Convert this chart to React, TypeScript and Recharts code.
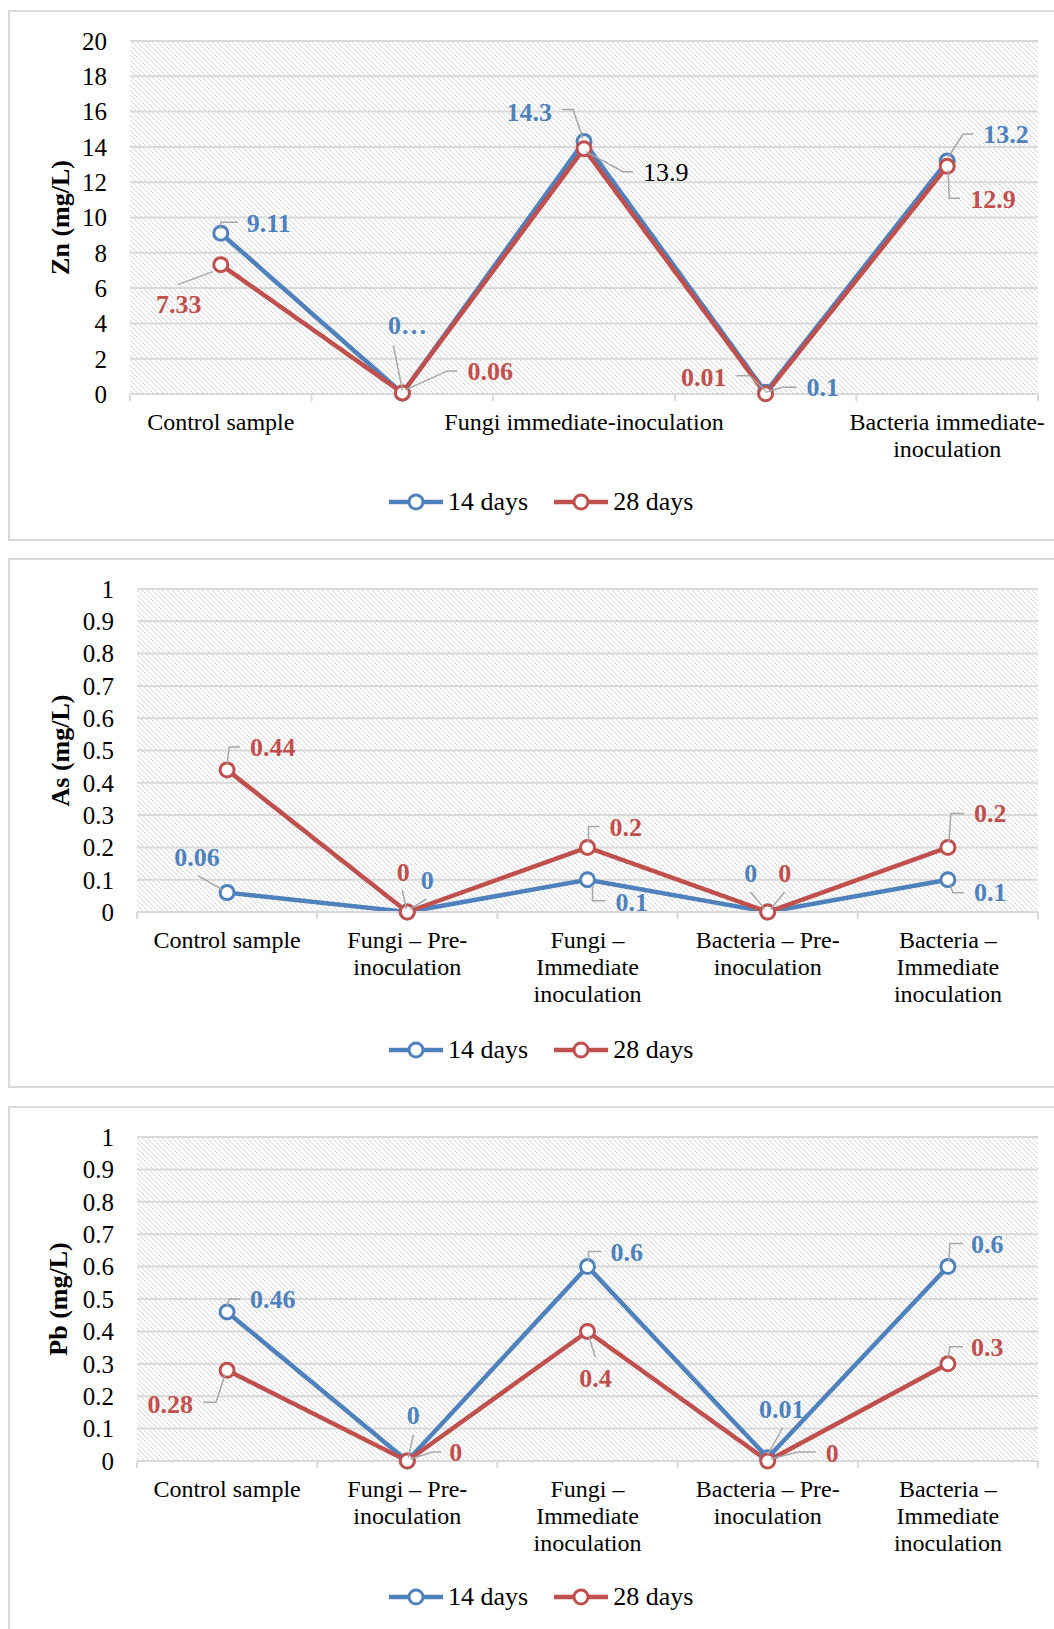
import React from "react";
import { LineChart, Line, XAxis, YAxis, CartesianGrid, Legend, LabelList } from "recharts";

// categories
const znCategories = ["Control sample", "Fungi pre-inoculation", "Fungi immediate-inoculation", "Bacteria pre-inoculation", "Bacteria immediate-\ninoculation"];
const categories = ["Control sample", "Fungi – Pre-\ninoculation", "Fungi –\nImmediate\ninoculation", "Bacteria – Pre-\ninoculation", "Bacteria –\nImmediate\ninoculation"];

// values (mg/L)
const zn14 = [9.11, 0.04, 14.3, 0.1, 13.2];
const zn28 = [7.33, 0.06, 13.9, 0.01, 12.9];
const as14 = [0.06, 0, 0.1, 0, 0.1];
const as28 = [0.44, 0, 0.2, 0, 0.2];
const pb14 = [0.46, 0, 0.6, 0.01, 0.6];
const pb28 = [0.28, 0, 0.4, 0, 0.3];

// label texts (Excel truncated one of them)
const zn14Text = ["9.11", "0…", "14.3", "0.1", "13.2"];

// y ticks
const znTicks = [0, 2, 4, 6, 8, 10, 12, 14, 16, 18, 20];
const unitTicks = [0, 0.1, 0.2, 0.3, 0.4, 0.5, 0.6, 0.7, 0.8, 0.9, 1];

const BLUE = "#4F81BD";
const RED = "#C0504D";
const GRID = "#D9D9D9";
const LEADER = "#A6A6A6";
const FONT = '"Liberation Serif", "Times New Roman", serif';
const W = 1054;
const PLOT_RIGHT = 1038;

type Tag = { dx: number; dy: number; anchor: "start" | "middle" | "end"; leader: number[][]; color?: string; weight?: string };

// label placement relative to each point
const zn14Tags: Tag[] = [
  { dx: 26, dy: -10, anchor: "start", leader: [[0, -4], [0, -11], [17, -11]] },
  { dx: 5, dy: -68, anchor: "middle", leader: [[-9, -48], [0, -3]] },
  { dx: -32, dy: -29, anchor: "end", leader: [[-22, -32], [-11, -32], [-1, -3]] },
  { dx: 41, dy: -5, anchor: "start", leader: [[0, 0], [17, -5], [31, -5]] },
  { dx: 36, dy: -27, anchor: "start", leader: [[1, -4], [16, -27], [26, -27]] },
];
const zn28Tags: Tag[] = [
  { dx: -42, dy: 40, anchor: "middle", leader: [[-8, 7], [-43, 20]] },
  { dx: 65, dy: -21, anchor: "start", leader: [[3, -3], [45, -22], [55, -22]] },
  { dx: 59, dy: 24, anchor: "start", leader: [[2, 3], [39, 23], [49, 23]], color: "#000", weight: "normal" },
  { dx: -39, dy: -16, anchor: "end", leader: [[-29, -18], [-16, -18], [0, -3]] },
  { dx: 23, dy: 33, anchor: "start", leader: [[1, 4], [2, 32], [13, 32]] },
];
const as14Tags: Tag[] = [
  { dx: -30, dy: -35, anchor: "middle", leader: [[-29, -17], [-5, -3]] },
  { dx: 20, dy: -32, anchor: "middle", leader: [[19, -13], [3, -3]] },
  { dx: 28, dy: 23, anchor: "start", leader: [[5, 5], [5, 21], [18, 21]] },
  { dx: -17, dy: -39, anchor: "middle", leader: [[-17, -20], [-3, -3]] },
  { dx: 26, dy: 13, anchor: "start", leader: [[2, 4], [5, 13], [16, 13]] },
];
const as28Tags: Tag[] = [
  { dx: 23, dy: -22, anchor: "start", leader: [[0, -5], [2, -23], [13, -23]] },
  { dx: -4, dy: -40, anchor: "middle", leader: [[-5, -22], [-1, -3]] },
  { dx: 22, dy: -20, anchor: "start", leader: [[1, -5], [1, -21], [12, -21]] },
  { dx: 17, dy: -39, anchor: "middle", leader: [[17, -20], [3, -3]] },
  { dx: 26, dy: -34, anchor: "start", leader: [[1, -5], [3, -34], [16, -34]] },
];
const pb14Tags: Tag[] = [
  { dx: 23, dy: -12, anchor: "start", leader: [[0, -5], [2, -13], [13, -13]] },
  { dx: 6, dy: -46, anchor: "middle", leader: [[6, -26], [1, -3]] },
  { dx: 23, dy: -14, anchor: "start", leader: [[1, -5], [1, -15], [14, -15]] },
  { dx: 14, dy: -48, anchor: "middle", leader: [[15, -30], [0, -3]] },
  { dx: 23, dy: -22, anchor: "start", leader: [[1, -5], [2, -23], [15, -23]] },
];
const pb28Tags: Tag[] = [
  { dx: -34, dy: 34, anchor: "end", leader: [[-2, 4], [-11, 32], [-24, 32]] },
  { dx: 42, dy: -9, anchor: "start", leader: [[3, -2], [25, -9], [34, -9]] },
  { dx: 8, dy: 47, anchor: "middle", leader: [[1, 4], [8, 26]] },
  { dx: 58, dy: -8, anchor: "start", leader: [[3, -2], [30, -9], [48, -9]] },
  { dx: 23, dy: -16, anchor: "start", leader: [[0, -5], [2, -17], [15, -17]] },
];

const makeLabel = (texts: string[], tags: Tag[], color: string) => (props: any) => {
  const { index, value } = props;
  const x = props.x ?? props.viewBox?.x;
  const y = props.y ?? props.viewBox?.y;
  const t = tags[index];
  if (!t || x == null || y == null) return null;
  const pts = t.leader.map(([a, b]) => `${x + a},${y + b}`).join(" ");
  return (
    <g key={`lbl-${index}`}>
      <polyline points={pts} fill="none" stroke={LEADER} strokeWidth={1.5} />
      <text x={x + t.dx} y={y + t.dy} textAnchor={t.anchor} dominantBaseline="central"
        fill={t.color ?? color} fontWeight={t.weight ?? "bold"} fontSize={26} fontFamily={FONT}>
        {texts[index] ?? String(value)}
      </text>
    </g>
  );
};

const CatTick = (p: any) => {
  const { x, y, payload, bw, skipOdd, count } = p;
  const i = payload.index;
  const lines = String(payload.value).split("\n");
  return (
    <g>
      <line x1={x - bw / 2} x2={x - bw / 2} y1={y} y2={y + 7} stroke={GRID} strokeWidth={2} />
      {i === count - 1 && <line x1={x + bw / 2} x2={x + bw / 2} y1={y} y2={y + 7} stroke={GRID} strokeWidth={2} />}
      {!(skipOdd && i % 2 === 1) && (
        <text x={x} y={y + 28} textAnchor="middle" dominantBaseline="central" fontSize={24} fill="#000" fontFamily={FONT}>
          {lines.map((l, k) => (
            <tspan key={k} x={x} dy={k === 0 ? 0 : 27}>{l}</tspan>
          ))}
        </text>
      )}
    </g>
  );
};

const AxisTitle = (p: any) => {
  const vb = p.viewBox || { x: 0, y: 0, height: 0 };
  const cx = vb.x + p.cx;
  const cy = vb.y + vb.height / 2;
  return (
    <text x={cx} y={cy} transform={`rotate(-90 ${cx} ${cy})`} textAnchor="middle" dominantBaseline="central"
      fontWeight="bold" fontSize={26} fill="#000" fontFamily={FONT}>
      {p.text}
    </text>
  );
};

const Key = ({ color }: { color: string }) => (
  <svg width={54} height={20} style={{ display: "block" }}>
    <line x1={0} x2={54} y1={10} y2={10} stroke={color} strokeWidth={4.5} />
    <circle cx={27} cy={10} r={7} fill="#fff" stroke={color} strokeWidth={3} />
  </svg>
);

const LegendBox = () => (
  <div style={{ height: 30, display: "flex", alignItems: "center", paddingLeft: 389, fontSize: 26, fontFamily: FONT, color: "#000" }}>
    <Key color={BLUE} />
    <span style={{ marginLeft: 5 }}>14 days</span>
    <span style={{ marginLeft: 26 }}><Key color={RED} /></span>
    <span style={{ marginLeft: 5 }}>28 days</span>
  </div>
);

type PanelProps = {
  id: string; cats: string[]; v14: number[]; v28: number[]; t14: string[]; t28: string[];
  tags14: Tag[]; tags28: Tag[]; ticks: number[]; domain: [number, number]; title: string; titleX: number;
  top: number; height: number; plotLeft: number; xAxisHeight: number; marginBottom: number; skipOdd?: boolean;
};

function Panel(p: PanelProps) {
  const rows = p.cats.map((c, i) => ({ name: c, d14: p.v14[i], d28: p.v28[i] }));
  const bw = (PLOT_RIGHT - p.plotLeft) / rows.length;
  return (
    <div style={{ position: "absolute", left: 0, top: p.top, width: W, height: p.height }}>
      <LineChart width={W} height={p.height} data={rows} margin={{ top: 41, right: W - PLOT_RIGHT, bottom: p.marginBottom, left: 0 }}>
        <defs>
          <pattern id={p.id} width={5} height={5} patternUnits="userSpaceOnUse">
            <rect width={5} height={5} fill="#fff" />
            <path d="M-1,-1 L6,6 M-1,4 L1,6 M4,-1 L6,1" stroke="#D4D4D4" strokeWidth={1} />
          </pattern>
        </defs>
        <CartesianGrid vertical={false} stroke={GRID} strokeWidth={2} fill={`url(#${p.id})`} fillOpacity={1} />
        <XAxis dataKey="name" interval={0} padding={{ left: bw / 2, right: bw / 2 }} axisLine={{ stroke: GRID, strokeWidth: 2 }}
          tickLine={false} tickSize={0} tickMargin={0}
          height={p.xAxisHeight} tick={<CatTick bw={bw} skipOdd={p.skipOdd} count={rows.length} />} />
        <YAxis width={p.plotLeft} domain={p.domain} ticks={p.ticks} interval={0} axisLine={false} tickLine={false} tickSize={0} tickMargin={23}
          tick={{ fill: "#000", fontSize: 25, fontFamily: FONT }} label={<AxisTitle text={p.title} cx={p.titleX} />} />
        <Legend verticalAlign="bottom" content={<LegendBox />} />
        <Line type="linear" dataKey="d14" stroke={BLUE} strokeWidth={4.5} dot={{ r: 7, fill: "#fff", stroke: BLUE, strokeWidth: 3 }}
          activeDot={false} isAnimationActive={false}>
          <LabelList dataKey="d14" content={makeLabel(p.t14, p.tags14, BLUE)} />
        </Line>
        <Line type="linear" dataKey="d28" stroke={RED} strokeWidth={4.5} dot={{ r: 7, fill: "#fff", stroke: RED, strokeWidth: 3 }}
          activeDot={false} isAnimationActive={false}>
          <LabelList dataKey="d28" content={makeLabel(p.t28, p.tags28, RED)} />
        </Line>
      </LineChart>
    </div>
  );
}

const frame = (top: number, height: number) => (
  <div style={{ position: "absolute", left: 8, top, width: 1060, height, border: `2px solid ${GRID}`, boxSizing: "border-box" }} />
);

export default function App() {
  return (
    <div style={{ position: "absolute", left: 0, top: 0, width: W, height: 1629, overflow: "hidden", background: "#fff", fontFamily: FONT }}>
      {frame(10, 531)}
      {frame(558, 530)}
      {frame(1106, 600)}
      <Panel id="hatchZn" cats={znCategories} v14={zn14} v28={zn28} t14={zn14Text} t28={[]} tags14={zn14Tags} tags28={zn28Tags}
        ticks={znTicks} domain={[0, 20]} title="Zn (mg/L)" titleX={60} top={0} height={540} plotLeft={130} xAxisHeight={93} marginBottom={23} skipOdd />
      <Panel id="hatchAs" cats={categories} v14={as14} v28={as28} t14={[]} t28={[]} tags14={as14Tags} tags28={as28Tags}
        ticks={unitTicks} domain={[0, 1]} title="As (mg/L)" titleX={60} top={548} height={539} plotLeft={137} xAxisHeight={123} marginBottom={22} />
      <Panel id="hatchPb" cats={categories} v14={pb14} v28={pb28} t14={[]} t28={[]} tags14={pb14Tags} tags28={pb28Tags}
        ticks={unitTicks} domain={[0, 1]} title="Pb (mg/L)" titleX={58} top={1096} height={536} plotLeft={137} xAxisHeight={121} marginBottom={20} />
    </div>
  );
}
